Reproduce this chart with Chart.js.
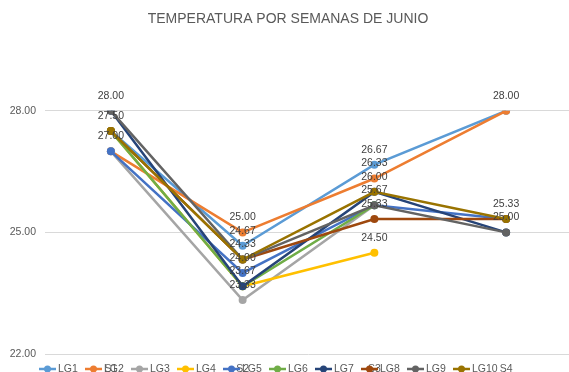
<!DOCTYPE html>
<html>
<head>
<meta charset="utf-8">
<script src="https://cdn.jsdelivr.net/npm/chart.js@4/dist/chart.umd.min.js"></script>
<style>
  html, body { margin: 0; padding: 0; background: #fff; overflow: hidden; }
  canvas { display: block; }
</style>
</head>
<body>
<canvas id="chart" width="576" height="372"></canvas>
<script>
// Semanas y temperaturas por serie
const semanas = ['S1', 'S2', 'S3', 'S4'];
const series = ['LG1', 'LG2', 'LG3', 'LG4', 'LG5', 'LG6', 'LG7', 'LG8', 'LG9', 'LG10'];
const lg1 = [27.5, 24.67, 26.67, 28];
const lg2 = [27, 25, 26.33, 28];
const lg3 = [27, 23.33, 25.67, null];
const lg4 = [27.5, 23.67, 24.5, null];
const lg5 = [27, 24, 25.67, 25.33];
const lg6 = [27.5, 23.67, 25.67, null];
const lg7 = [28, 23.67, 26, 25];
const lg8 = [27.5, 24.33, 25.33, 25.33];
const lg9 = [28, 24.33, 25.67, 25];
const lg10 = [27.5, 24.33, 26, 25.33];
const valores = [lg1, lg2, lg3, lg4, lg5, lg6, lg7, lg8, lg9, lg10];
const ticksY = [22, 25, 28];

const colores = ['#5B9BD5', '#ED7D31', '#A5A5A5', '#FFC000', '#4472C4',
                 '#70AD47', '#264478', '#9E480E', '#636363', '#997300'];

const fuente = '"Liberation Sans", Arial, sans-serif';

// Etiquetas de valor encima de cada punto (una sola vez si coinciden)
const etiquetas = {
    id: 'etiquetas',
    afterDatasetsDraw(chart) {
        const ctx = chart.ctx;
        const hechas = new Set();
        ctx.save();
        ctx.font = '10.5px ' + fuente;
        ctx.fillStyle = '#404040';
        ctx.textAlign = 'center';
        ctx.textBaseline = 'middle';
        chart.data.datasets.forEach((ds, i) => {
            const meta = chart.getDatasetMeta(i);
            meta.data.forEach((pt, j) => {
                const v = ds.data[j];
                if (v === null) return;
                const clave = j + ':' + v.toFixed(2);
                if (hechas.has(clave)) return;
                hechas.add(clave);
                ctx.fillText(v.toFixed(2), pt.x, pt.y - 15);
            });
        });
        ctx.restore();
    }
};

// Leyenda abajo, a la altura de las etiquetas del eje X
const leyenda = {
    id: 'leyenda',
    afterDraw(chart) {
        const ctx = chart.ctx;
        ctx.save();
        ctx.font = '10.5px ' + fuente;
        ctx.textBaseline = 'middle';
        const y = 369;
        let x = 39;
        chart.data.datasets.forEach((ds) => {
            ctx.strokeStyle = ds.borderColor;
            ctx.lineWidth = 2.5;
            ctx.beginPath();
            ctx.moveTo(x, y);
            ctx.lineTo(x + 17, y);
            ctx.stroke();
            ctx.fillStyle = ds.borderColor;
            ctx.beginPath();
            ctx.arc(x + 8.5, y, 3.5, 0, Math.PI * 2);
            ctx.fill();
            ctx.fillStyle = '#595959';
            ctx.fillText(ds.label, x + 19, y);
            x += 46;
        });
        ctx.restore();
    }
};

const datasets = series.map((nombre, i) => ({
    label: nombre,
    data: valores[i],
    borderColor: colores[i],
    backgroundColor: colores[i],
    borderWidth: 2.5,
    pointRadius: 4,
    pointBorderWidth: 0,
    pointHoverRadius: 4,
    order: series.length - i,
    spanGaps: false
}));

new Chart(document.getElementById('chart'), {
    type: 'line',
    data: { labels: semanas, datasets: datasets },
    options: {
        responsive: false,
        animation: false,
        devicePixelRatio: 1,
        layout: { padding: 0 },
        plugins: {
            legend: { display: false },
            tooltip: { enabled: false },
            title: {
                display: true,
                text: 'TEMPERATURA POR SEMANAS DE JUNIO',
                color: '#595959',
                font: { family: fuente, size: 14, weight: 'normal' },
                padding: { top: 11, bottom: 83 }
            }
        },
        scales: {
            x: {
                offset: true,
                grid: { display: false, drawTicks: false },
                border: { display: false },
                ticks: { color: '#595959', font: { family: fuente, size: 10.5 }, padding: 9 },
                afterFit(scale) { scale.height = 18; }
            },
            y: {
                min: 22,
                max: 28,
                afterBuildTicks(scale) { scale.ticks = ticksY.map(v => ({ value: v })); },
                grid: { color: '#D9D9D9', drawTicks: false },
                border: { display: false },
                ticks: {
                    color: '#595959',
                    font: { family: fuente, size: 10.5 },
                    padding: 9,
                    callback: v => v.toFixed(2)
                },
                afterFit(scale) { scale.width = 45; }
            }
        }
    },
    plugins: [etiquetas, leyenda]
});
</script>
</body>
</html>
